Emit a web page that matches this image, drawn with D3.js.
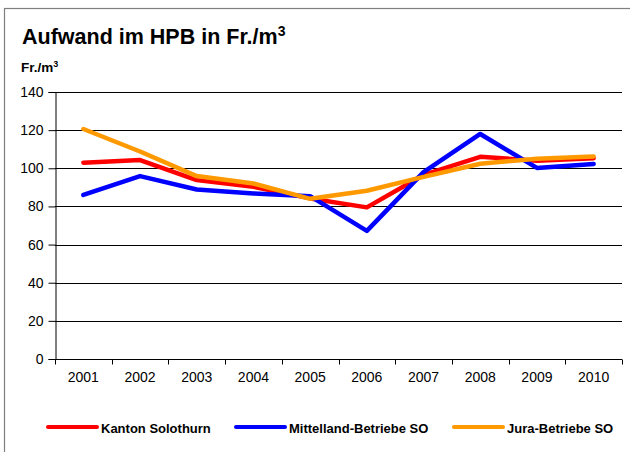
<!DOCTYPE html>
<html>
<head>
<meta charset="utf-8">
<script src="https://cdn.jsdelivr.net/npm/d3@7"></script>
<style>
  body { margin: 0; background: #fff; }
  svg { display: block; font-family: "Liberation Sans", Arial, sans-serif; }
</style>
</head>
<body>
<div id="chart"></div>
<script>
// chart data
var years = ["2001", "2002", "2003", "2004", "2005", "2006", "2007", "2008", "2009", "2010"];
var kanton = [102.9, 104.3, 93.8, 90.3, 84.2, 79.5, 96.5, 106, 104, 105.3];
var mittelland = [86, 95.9, 88.9, 86.8, 85.4, 67.2, 98, 118, 100.2, 102.3];
var jura = [120.6, 108.8, 95.9, 92, 84, 88.2, 95.5, 102.4, 105, 106.2];
var yTicks = [0, 20, 40, 60, 80, 100, 120, 140];

var series = [
  {name: "Kanton Solothurn", values: kanton, color: "#ff0000"},
  {name: "Mittelland-Betriebe SO", values: mittelland, color: "#0000ff"},
  {name: "Jura-Betriebe SO", values: jura, color: "#ff9900"}
];

var width = 630, height = 452;
var margin = {top: 92, right: 8, bottom: 93, left: 55};

var svg = d3.select("#chart").append("svg")
  .attr("width", width)
  .attr("height", height);

// outer frame (only top and left visible)
svg.append("rect")
  .attr("x", 4.5).attr("y", 8.5)
  .attr("width", width + 20).attr("height", height + 20)
  .attr("fill", "none")
  .attr("stroke", "#7f7f7f")
  .attr("stroke-width", 1.2);

var x = d3.scaleBand()
  .domain(years)
  .range([margin.left, width - margin.right]);

var y = d3.scaleLinear()
  .domain([0, 140])
  .range([height - margin.bottom, margin.top]);

// grid lines
svg.append("g")
  .selectAll("line")
  .data(yTicks.filter(function(d) { return d > 0; }))
  .enter().append("line")
  .attr("x1", margin.left)
  .attr("x2", width - margin.right)
  .attr("y1", function(d) { return Math.round(y(d)) + 0.5; })
  .attr("y2", function(d) { return Math.round(y(d)) + 0.5; })
  .attr("stroke", "#000")
  .attr("stroke-width", 1);

// y axis
var yAxis = d3.axisLeft(y).tickValues(yTicks).tickSize(7).tickPadding(5);
var gy = svg.append("g")
  .attr("transform", "translate(" + (margin.left + 0.5) + ",0)")
  .call(yAxis);
gy.select(".domain").attr("stroke", "#000");
gy.selectAll("text").style("font-size", "14px").attr("fill", "#000")
  .style("font-family", "'Liberation Sans', Arial, sans-serif");

// x axis with ticks between categories
var gx = svg.append("g")
  .attr("transform", "translate(0," + (Math.round(y(0)) + 0.5) + ")");
gx.append("line")
  .attr("x1", margin.left).attr("x2", width - margin.right)
  .attr("stroke", "#000");
var bounds = years.map(function(d) { return x(d); }).concat([x(years[years.length - 1]) + x.bandwidth()]);
gx.selectAll(".tk").data(bounds).enter().append("line")
  .attr("x1", function(d) { return Math.round(d) + 0.5; })
  .attr("x2", function(d) { return Math.round(d) + 0.5; })
  .attr("y1", 0).attr("y2", 5)
  .attr("stroke", "#000");
gx.selectAll("text").data(years).enter().append("text")
  .attr("x", function(d) { return x(d) + x.bandwidth() / 2; })
  .attr("y", 22)
  .attr("text-anchor", "middle")
  .style("font-size", "14px")
  .text(function(d) { return d; });

// lines
var line = d3.line()
  .x(function(d, i) { return x(years[i]) + x.bandwidth() / 2; })
  .y(function(d) { return y(d); });

series.forEach(function(s) {
  svg.append("path")
    .datum(s.values)
    .attr("d", line)
    .attr("fill", "none")
    .attr("stroke", s.color)
    .attr("stroke-width", 4.5)
    .attr("stroke-linejoin", "round")
    .attr("stroke-linecap", "round");
});

// titles
var title = svg.append("text")
  .attr("x", 22).attr("y", 44)
  .style("font-size", "21.5px")
  .style("font-weight", "bold")
  .text("Aufwand im HPB in Fr./m");
title.append("tspan").attr("dy", -8).style("font-size", "14px").text("3");

var unit = svg.append("text")
  .attr("x", 21).attr("y", 72)
  .style("font-size", "13.5px")
  .style("font-weight", "bold")
  .text("Fr./m");
unit.append("tspan").attr("dy", -5).style("font-size", "9px").text("3");

// legend
var legendX = [48, 236, 454];
series.forEach(function(s, i) {
  var g = svg.append("g").attr("transform", "translate(" + legendX[i] + ",427)");
  g.append("line")
    .attr("x1", 0).attr("x2", 49)
    .attr("stroke", s.color)
    .attr("stroke-width", 4)
    .attr("stroke-linecap", "round");
  g.append("text")
    .attr("x", 53).attr("y", 5.5)
    .style("font-size", "13px")
    .style("font-weight", "bold")
    .text(s.name);
});
</script>
</body>
</html>
